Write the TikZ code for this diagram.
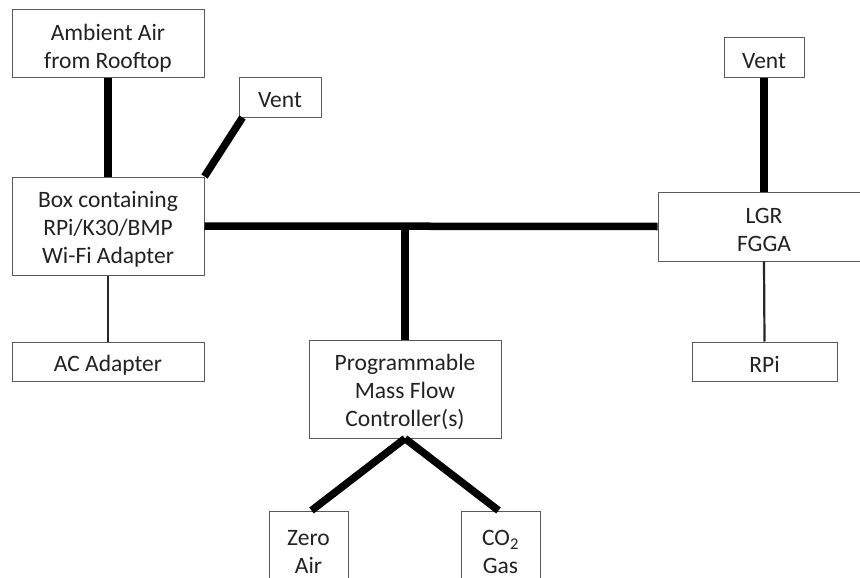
\documentclass[tikz,border=0pt]{standalone}
\usepackage{fontspec}
\setmainfont{Carlito}
\usetikzlibrary{calc}
\definecolor{edge}{HTML}{5A5A5A}
\definecolor{txt}{HTML}{222222}
\tikzset{
  box/.style={draw=edge, line width=1pt, fill=white, inner sep=0pt},
  lbl/.style={inner sep=0pt, align=center, text=txt, font=\fontsize{23.5}{28}\selectfont},
  pipe/.style={line width=7.5pt, black},
  wire/.style={line width=2.2pt, black!85},
}
\begin{document}
\begin{tikzpicture}[x=1pt,y=-1pt]
\useasboundingbox (0,0) rectangle (860,578);
\clip (0,0) rectangle (860,578);
\fill[white] (0,0) rectangle (860,578);
% boxes
\node[box, minimum width=192, minimum height=68] (amb) at (108,43.5) {};
\node[box, minimum width=82, minimum height=39] (ventL) at (280,97.5) {};
\node[box, minimum width=192, minimum height=98] (bx) at (108,226) {};
\node[box, minimum width=192, minimum height=39] (ac) at (108,362) {};
\node[box, minimum width=212, minimum height=69] (lgr) at (764,226.5) {};
\node[box, minimum width=80, minimum height=40] (ventR) at (764,58) {};
\node[box, minimum width=145, minimum height=39] (rpi) at (764.5,361.5) {};
\node[box, minimum width=192, minimum height=98] (prog) at (405,389) {};
\node[box, minimum width=79, minimum height=76] (zero) at (308.5,549) {};
\node[box, minimum width=79, minimum height=76] (co2) at (500.5,549) {};
% texts
\node[lbl] (ambT) at ([yshift=-5pt]amb.center) {Ambient Air\\from Rooftop};
\node[lbl] (ventLT) at ([yshift=-3pt]ventL.center) {Vent};
\node[lbl] (bxT) at ([yshift=-3pt]bx.center) {Box containing\\RPi/K30/BMP\\Wi-Fi Adapter};
\node[lbl] (acT) at ([yshift=-3pt]ac.center) {AC Adapter};
\node[lbl] (lgrT) at ([yshift=-3pt]lgr.center) {LGR\\FGGA};
\node[lbl] (ventRT) at ([yshift=-3pt]ventR.center) {Vent};
\node[lbl] (rpiT) at ([yshift=-3pt]rpi.center) {RPi};
\node[lbl] (progT) at ([yshift=-3pt]prog.center) {Programmable\\Mass Flow\\Controller(s)};
\node[lbl] (zeroT) at ([yshift=-3pt]zero.center) {Zero\\Air};
\node[lbl] (co2T) at ([yshift=-3pt]co2.center) {CO\textsubscript{2}\\Gas};
% connectors
\coordinate (j) at (prog.north |- bx.east);
\draw[pipe] (amb.south) -- (bx.north);
\draw[pipe] ($(ventL.south west)+(4,0)$) -- (bx.north east);
\draw[pipe] (bx.east) -- (lgr.west);
\draw[pipe] (j) -- (prog.north);
\draw[pipe] (ventR.south) -- (lgr.north);
\draw[pipe] (prog.south) -- ($(zero.north)+(3,0)$);
\draw[pipe] (prog.south) -- ($(co2.north)+(-2,0)$);
\draw[wire] (bx.south) -- (ac.north);
\draw[wire] (lgr.south) -- (rpi.north);
\end{tikzpicture}
\end{document}
